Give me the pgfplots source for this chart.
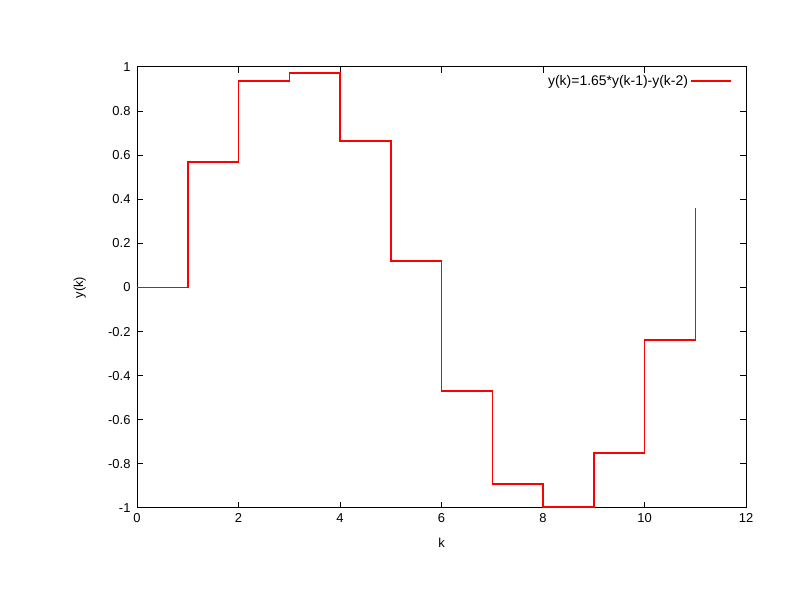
\documentclass[border=0pt]{standalone}
\usepackage{fontspec}
\setmainfont{Liberation Sans}
\usepackage{pgfplots}
\pgfplotsset{compat=1.18}
\begin{document}
\begin{tikzpicture}[x=1bp,y=1bp]
\useasboundingbox[fill=white] (0,0) rectangle (792,612);
\begin{axis}[
  at={(137bp,104bp)}, anchor=south west,
  scale only axis, width=609bp, height=441bp,
  xmin=0, xmax=12, ymin=-1, ymax=1,
  xtick={0,2,...,12},
  ytick={-1,-0.8,-0.6,-0.4,-0.2,0,0.2,0.4,0.6,0.8,1},
  tick align=inside,
  major tick length=6bp,
  tick style={black, line width=1bp},
  axis line style={line width=1bp},
  font=\fontsize{13}{15}\selectfont,
  /pgf/number format/assume math mode=true,
  yticklabel style={/pgf/number format/fixed, /pgf/number format/precision=1, xshift=-3bp},
  xticklabel style={yshift=-2bp},
  xlabel={k}, ylabel={y(k)},
  xlabel style={at={(axis description cs:0.5,-0.079)}, anchor=center},
  ylabel style={at={(axis description cs:-0.094,0.5)}, anchor=center, rotate=0},
  legend style={draw=none, fill=none, at={(0.9765,0.985)}, anchor=north east, font=\fontsize{14}{16}\selectfont, inner sep=0pt},
  legend plot pos=right,
  legend cell align=right,
  legend image code/.code={\draw[red, line width=1.5bp] (0bp,0.5bp) -- (40bp,0.5bp);},
  every axis legend/.append style={/tikz/every even column/.style={column sep=9bp}},
]
\addplot[const plot, red, line width=1.5bp] coordinates {
(0,0) (1,0.569) (2,0.936) (3,0.973) (4,0.664) (5,0.120) (6,-0.469) (7,-0.891) (8,-0.995) (9,-0.750) (10,-0.238) (11,0.360)
};
\addlegendentry{y(k)=1.65*y(k-1)-y(k-2)}
\end{axis}
\end{tikzpicture}
\end{document}
